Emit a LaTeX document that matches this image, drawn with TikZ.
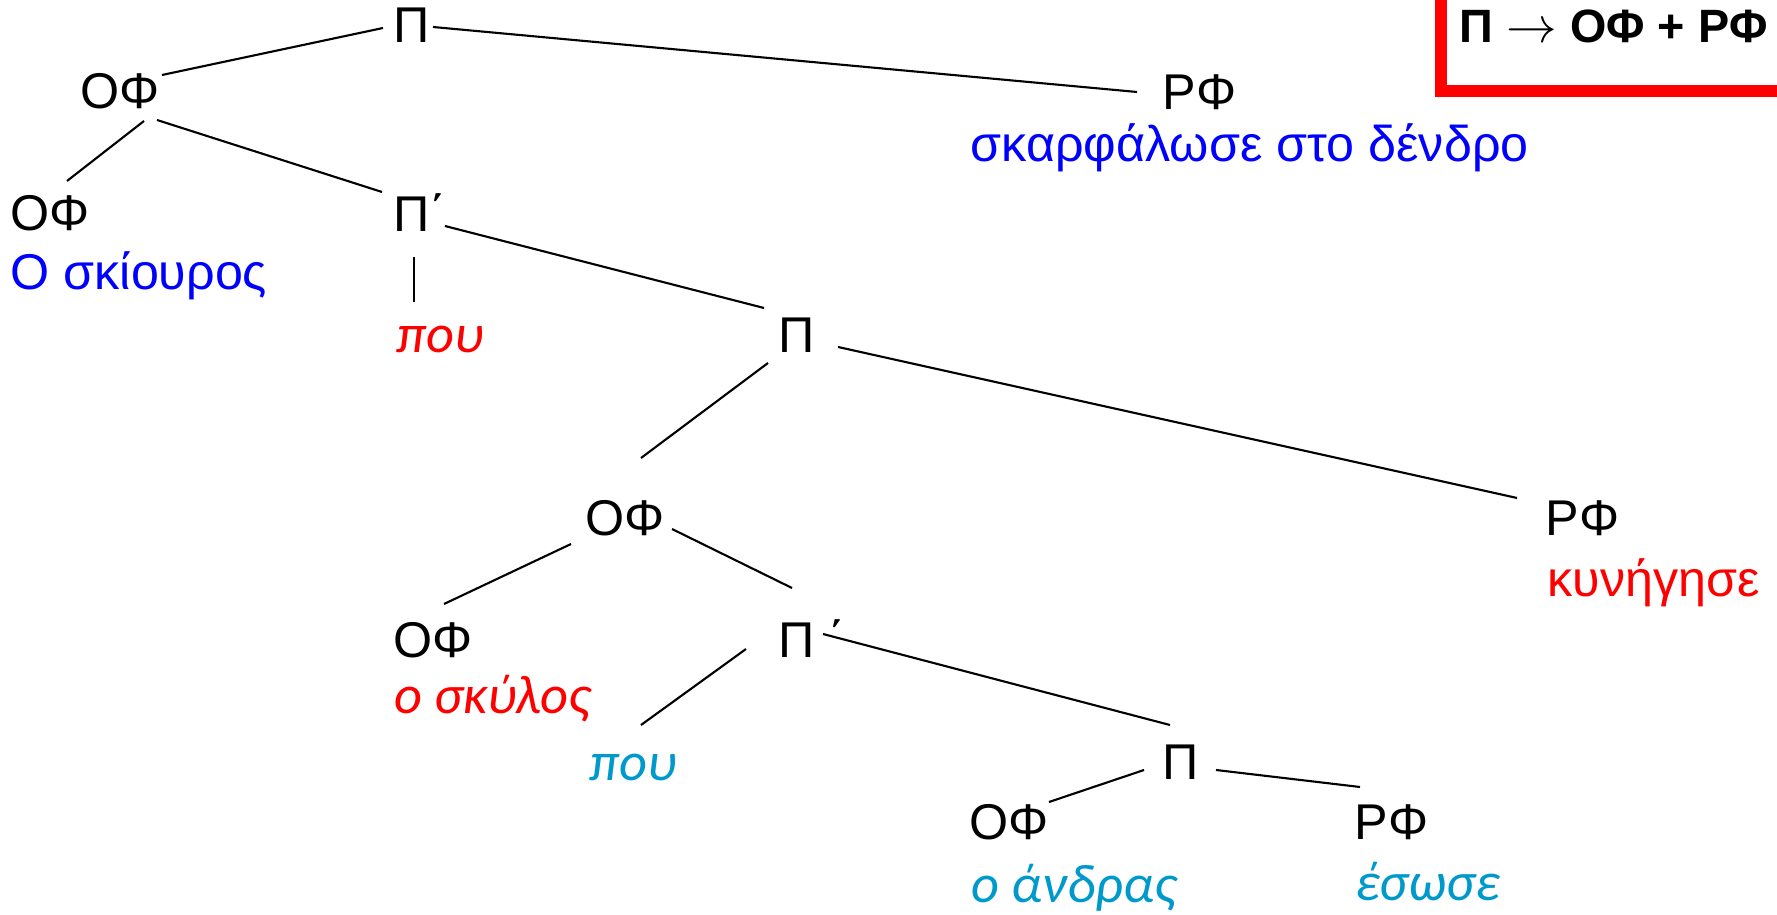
\documentclass[tikz,border=0pt]{standalone}
\usepackage{fontspec}
\setmainfont{Liberation Sans}
\newfontfamily\calfont{Carlito}
\definecolor{tblue}{RGB}{0,0,255}
\definecolor{tred}{RGB}{255,0,0}
\definecolor{tcyan}{RGB}{0,153,204}
\begin{document}
\begin{tikzpicture}[x=0.1mm,y=-0.1mm,
  lab/.style={anchor=base west,inner sep=0pt,font=\fontsize{14.3pt}{16pt}\selectfont},
  wup/.style={lab},
  wit/.style={anchor=base west,inner sep=0pt,font=\calfont\itshape\fontsize{15.5pt}{18pt}\selectfont},
  edge/.style={draw=black,line width=0.6pt}]
\useasboundingbox (0,0) rectangle (1777,915);
% red box
\draw[tred,line width=12*0.1mm] (1441,-20) -- (1441,91.5) -- (1800,91.5);
\node[anchor=base west,inner sep=0pt,font=\bfseries\fontsize{13.3pt}{15pt}\selectfont] (rule) at (1459,43) {Π $\rightarrow$ ΟΦ + ΡΦ};
% nodes
\node[lab] (p1) at (393,43) {Π};
\node[lab] (of1) at (80,109) {ΟΦ};
\node[lab] (rf1) at (1162,110) {ΡΦ};
\node[wup,text=tblue] (w1) at (970,162) {σκαρφάλωσε στο δένδρο};
\node[lab] (of2) at (10,231) {ΟΦ};
\node[wup,text=tblue] (w2) at (10,290) {Ο σκίουρος};
\node[lab] (pp1) at (393,232) {Π΄};
\node[wit,text=tred] (w3) at (396,353) {που};
\node[lab] (p2) at (778,353) {Π};
\node[lab] (of3) at (585,536) {ΟΦ};
\node[lab] (rf3) at (1545,536) {ΡΦ};
\node[wup,text=tred] (w4) at (1547,597) {κυνήγησε};
\node[lab] (of5) at (393,657) {ΟΦ};
\node[wit,text=tred] (w5) at (394,713) {ο σκύλος};
\node[lab] (pp2) at (778,657) {Π ΄};
\node[wit,text=tcyan] (w6) at (589,780) {που};
\node[lab] (p3) at (1162,779) {Π};
\node[lab] (of4) at (969,839) {ΟΦ};
\node[wit,text=tcyan] (w7) at (971,902) {ο άνδρας};
\node[lab] (rf4) at (1354,839) {ΡΦ};
\node[wit,text=tcyan] (w8) at (1355,900) {έσωσε};
% connector ends
\coordinate (a1) at (383,28);   \coordinate (b1) at (162,75);
\coordinate (a2) at (433,27);   \coordinate (b2) at (1137,92);
\coordinate (a3) at (144,121);  \coordinate (b3) at (67,181);
\coordinate (a4) at (157,120);  \coordinate (b4) at (382,192);
\coordinate (a5) at (414,257);  \coordinate (b5) at (414,302);
\coordinate (a6) at (445,226);  \coordinate (b6) at (764,308);
\coordinate (a7) at (768,363);  \coordinate (b7) at (641,458);
\coordinate (a8) at (838,347);  \coordinate (b8) at (1517,498);
\coordinate (a9) at (571,544);  \coordinate (b9) at (444,604);
\coordinate (a10) at (672,529); \coordinate (b10) at (792,588);
\coordinate (a11) at (746,649); \coordinate (b11) at (641,725);
\coordinate (a12) at (823,634); \coordinate (b12) at (1170,725);
\coordinate (a13) at (1144,770);\coordinate (b13) at (1049,802);
\coordinate (a14) at (1216,770);\coordinate (b14) at (1360,787);
\foreach \i in {1,...,14} {\draw[edge] (a\i) -- (b\i);}
\end{tikzpicture}
\end{document}
